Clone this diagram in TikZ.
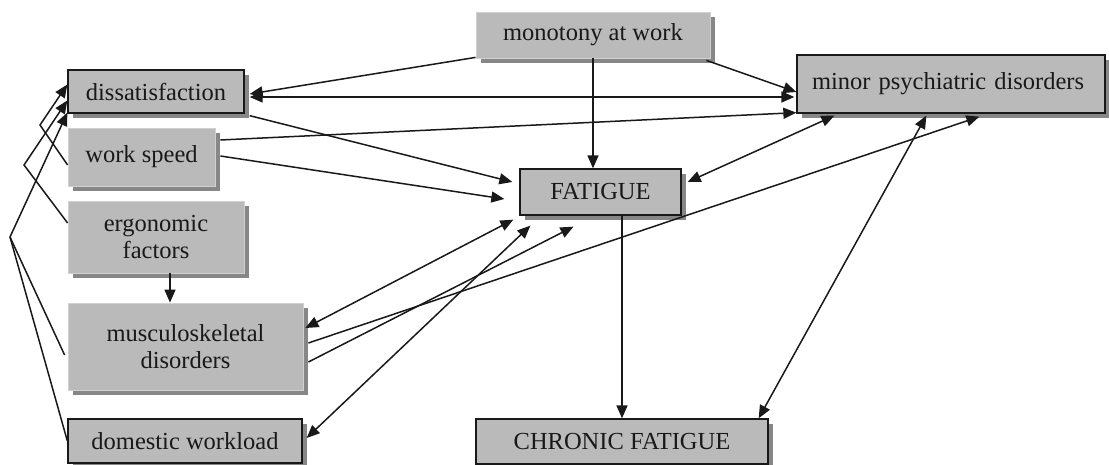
\documentclass[tikz,border=0pt]{standalone}
\usepackage{fontspec}
\setmainfont{Liberation Serif}
\usetikzlibrary{arrows.meta,shadows,calc}
\definecolor{boxfill}{RGB}{186,186,186}
\definecolor{shadowc}{RGB}{135,135,135}
\definecolor{inkc}{RGB}{25,25,25}
\begin{document}
\begin{tikzpicture}[x=1pt,y=-1pt,
  box/.style={rectangle, fill=boxfill, inner sep=0pt, align=center,
    font=\fontsize{24.5}{27}\selectfont, text=inkc,
    drop shadow={shadow xshift=5pt,shadow yshift=-5pt,fill=shadowc,opacity=1}},
  darkbox/.style={box, draw=inkc, line width=1.3pt},
  lightbox/.style={box, draw=black!18, line width=0.8pt},
  conn/.style={line width=1.5pt, draw=inkc, -{Triangle[length=13pt,width=11pt]}},
  biarrow/.style={conn, {Triangle[length=13pt,width=11pt]}-{Triangle[length=13pt,width=11pt]}},
  plain/.style={line width=1.5pt, draw=inkc}
]
\useasboundingbox (0,0) rectangle (1109,465);

% nodes
\node[darkbox,  minimum width=176pt, minimum height=43pt] (dis) at (156,91.5) {dissatisfaction};
\node[lightbox, minimum width=147pt, minimum height=58pt] (ws)  at (141.5,157) {work speed};
\node[lightbox, minimum width=176pt, minimum height=72pt] (erg) at (156,237) {ergonomic\\factors};
\node[lightbox, minimum width=235pt, minimum height=87pt] (mus) at (185.5,346.5) {musculoskeletal\\disorders};
\node[darkbox,  minimum width=234pt, minimum height=44pt] (dom) at (185,441) {domestic workload};
\node[lightbox, minimum width=234pt, minimum height=46pt] (mon) at (593,35) {monotony at work};
\node[darkbox,  minimum width=161pt, minimum height=46pt] (fat) at (600.5,192) {FATIGUE};
\node[darkbox,  minimum width=308pt, minimum height=58pt, text width=278pt, align=left] (mpd) at (951,84) {\raisebox{4pt}{minor psychiatric disorders}};
\node[darkbox,  minimum width=292pt, minimum height=45pt] (chr) at (622,441.5) {CHRONIC FATIGUE};

% helper coordinates
\coordinate (v1) at (40,125);
\coordinate (v2) at (24,165);
\coordinate (v3) at (10,237);
\coordinate (e1) at ([xshift=14pt]erg.south);
\coordinate (fend) at ([xshift=-27pt,yshift=-11pt]fat.south);

% monotony
\draw[conn] ([yshift=1pt]mon.south west) -- ([xshift=5pt,yshift=-2.5pt]dis.east);
\draw[conn] ([xshift=-4pt,yshift=-2pt]mon.south east) -- ([yshift=-8pt]mpd.west);
\draw[conn] (mon.south) -- (mon.south |- fat.north);

% dissatisfaction
\draw[biarrow] ([xshift=5pt,yshift=-5.5pt]dis.east) -- ([xshift=-2pt,yshift=-13pt]mpd.west);
\draw[conn] ([xshift=5pt,yshift=-2pt]dis.south east) -- ([xshift=-7pt,yshift=10pt]fat.west);

% work speed
\draw[conn] ([xshift=5pt,yshift=17pt]ws.east) -- ([yshift=1pt]mpd.south west);
\draw[conn] ([xshift=5pt,yshift=1pt]ws.east) -- ([xshift=-15pt,yshift=-7pt]fat.west);

% fatigue / minor psychiatric / chronic
\draw[biarrow] ([xshift=6pt,yshift=10pt]fat.east) -- ([xshift=38pt,yshift=-2pt]mpd.south west);
\draw[biarrow] ([xshift=130pt,yshift=-2pt]mpd.south west) -- ([xshift=-10pt]chr.north east);
\draw[conn] (chr.north |- fat.south) -- (chr.north);

% musculoskeletal
\draw[conn] ([xshift=5pt,yshift=3.5pt]mus.east) -- ([xshift=183pt,yshift=-3pt]mpd.south west);
\draw[conn] ([xshift=5pt,yshift=-15.5pt]mus.east) -- (fend);
\draw[biarrow] ([xshift=-6pt,yshift=-4pt]fat.south west) -- ([xshift=2pt,yshift=18.5pt]mus.east);
\draw[biarrow] ([xshift=11pt,yshift=-10pt]fat.south west) -- ([xshift=4pt,yshift=3pt]dom.east);

% ergonomic -> musculoskeletal
\draw[conn] (e1) -- (e1 |- mus.north);

% left side lines to dissatisfaction
\draw[conn] ([yshift=-8pt]ws.west) -- (v1) -- ([yshift=7pt]dis.west);
\draw[conn] ([yshift=14pt]erg.west) -- (v2) -- ([yshift=-9pt]dis.west);
\draw[conn] ([xshift=-3pt,yshift=-8.5pt]mus.west) -- (v3) -- ([yshift=1pt]dis.south west);
\draw[plain] (dom.west) -- (v3);
\end{tikzpicture}
\end{document}
